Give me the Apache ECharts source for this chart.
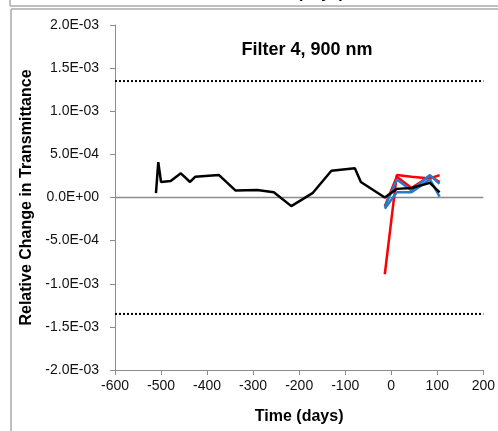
<!DOCTYPE html>
<html>
<head>
<meta charset="utf-8">
<script src="https://cdn.jsdelivr.net/npm/echarts@6/dist/echarts.min.js"></script>
<style>
  html, body { margin: 0; padding: 0; background: #fff; }
  #chart { width: 498px; height: 431px; }
</style>
</head>
<body>
<div id="chart"></div>
<script>
// Time (days) and relative transmittance change for filter 4 at 900 nm
var blackT = [-511, -506, -500, -479, -457, -437, -426, -374, -338, -291, -255, -217, -171, -130, -79, -66, -14, 12, 44, 84, 105];
var blackV = [5e-5, 4.1e-4, 1.8e-4, 1.9e-4, 2.8e-4, 1.8e-4, 2.4e-4, 2.6e-4, 8e-5, 8.7e-5, 6e-5, -1.0e-4, 5e-5, 3.1e-4, 3.4e-4, 1.8e-4, 0, 1.0e-4, 1.1e-4, 1.7e-4, 6e-5];

var recentT = [-14, 12, 44, 84, 105];
var red1V  = [-8.9e-4, 2.6e-4, 2.4e-4, 2.2e-4, 2.6e-4];
var red2V  = [-1.0e-4, 2.4e-4, 1.1e-4, 2.5e-4, 1.8e-4];
var blue1V = [-1.1e-4, 2.1e-4, 8e-5, 2.6e-4, 1.6e-4];
var blue2V = [-1.3e-4, 6e-5, 6e-5, 2.1e-4, 1e-5];

// Tolerance limits (dotted) and reference line at zero
var limitUpper = 1.35e-3;
var limitLower = -1.35e-3;
var zeroValue = 0;

var xMin = -600, xMax = 200, xStep = 100;
var yMin = -2.0e-3, yMax = 2.0e-3, yStep = 5e-4;

function pairs(t, v) {
  return t.map(function (x, i) { return [x, v[i]]; });
}

function sci(v) {
  if (Math.abs(v) < 1e-12) v = 0;
  var s = v.toExponential(1);
  var m = s.split('e');
  var exp = parseInt(m[1], 10);
  var sign = exp < 0 ? '-' : '+';
  var e = Math.abs(exp);
  return m[0] + 'E' + sign + (e < 10 ? '0' + e : '' + e);
}

var FONT = '"Liberation Sans", Arial, sans-serif';

function lineSeries(name, t, v, color) {
  return {
    name: name,
    type: 'line',
    data: pairs(t, v),
    symbol: 'none',
    lineStyle: { color: color, width: 2.5 },
    itemStyle: { color: color },
    z: 3,
    animation: false
  };
}

function levelSeries(name, value, color, width, type) {
  return {
    name: name,
    type: 'line',
    data: [[xMin, value], [xMax, value]],
    symbol: 'none',
    silent: true,
    lineStyle: { color: color, width: width, type: type },
    z: 2,
    animation: false
  };
}

var blackSeries = lineSeries('Filter 4', blackT, blackV, '#000000');
blackSeries.z = 4;

var chart = echarts.init(document.getElementById('chart'));

chart.setOption({
  backgroundColor: '#ffffff',
  animation: false,
  textStyle: { fontFamily: FONT },
  title: {
    text: 'Filter 4, 900 nm',
    left: 302,
    top: 36,
    textAlign: 'center',
    textStyle: { fontFamily: FONT, fontSize: 18, fontWeight: 'bold', color: '#000' }
  },
  grid: { left: 115, right: 13, top: 25, bottom: 61, containLabel: false },
  xAxis: {
    type: 'value',
    min: xMin, max: xMax, interval: xStep,
    name: 'Time (days)',
    nameLocation: 'middle',
    nameGap: 39,
    nameTextStyle: { fontFamily: FONT, fontSize: 16, fontWeight: 'bold', color: '#000' },
    axisLine: { show: true, onZero: false, lineStyle: { color: '#8c8c8c', width: 1 } },
    axisTick: { show: true, length: 5, lineStyle: { color: '#8c8c8c' } },
    axisLabel: { fontFamily: FONT, fontSize: 14, color: '#111', margin: 9 },
    splitLine: { show: false }
  },
  yAxis: {
    type: 'value',
    min: yMin, max: yMax, interval: yStep,
    name: 'Relative Change in Transmittance',
    nameLocation: 'middle',
    nameRotate: 90,
    nameGap: 78,
    nameTextStyle: { fontFamily: FONT, fontSize: 16, fontWeight: 'bold', color: '#000' },
    axisLine: { show: true, onZero: false, lineStyle: { color: '#8c8c8c', width: 1 } },
    axisTick: { show: true, length: 5, lineStyle: { color: '#8c8c8c' } },
    axisLabel: { fontFamily: FONT, fontSize: 14, color: '#111', margin: 16, formatter: sci },
    splitLine: { show: false }
  },
  series: [
    levelSeries('Zero', zeroValue, '#8c8c8c', 1.5, 'solid'),
    levelSeries('Upper limit', limitUpper, '#000000', 2, [2, 2]),
    levelSeries('Lower limit', limitLower, '#000000', 2, [2, 2]),
    lineSeries('Red A', recentT, red1V, '#ff0000'),
    lineSeries('Red B', recentT, red2V, '#ff0000'),
    lineSeries('Blue A', recentT, blue1V, '#2a7bc4'),
    lineSeries('Blue B', recentT, blue2V, '#2a7bc4'),
    blackSeries
  ],
  graphic: [
    // bottom edge of the panel above, with its axis title clipped at the top
    {
      type: 'text', silent: true,
      style: { text: 'Time (days)', x: 300, y: 1.5, align: 'center', verticalAlign: 'bottom',
               font: 'bold 16px ' + FONT, fill: '#000' }
    },
    { type: 'line', silent: true, shape: { x1: 10, y1: 0, x2: 10, y2: 6 }, style: { stroke: '#aaaaaa', lineWidth: 1.5 } },
    { type: 'line', silent: true, shape: { x1: 10, y1: 6, x2: 498, y2: 6 }, style: { stroke: '#aaaaaa', lineWidth: 1.5 } },
    // frame of this panel
    { type: 'line', silent: true, shape: { x1: 11, y1: 9, x2: 498, y2: 9 }, style: { stroke: '#aaaaaa', lineWidth: 1.5 } },
    { type: 'line', silent: true, shape: { x1: 11, y1: 9, x2: 11, y2: 431 }, style: { stroke: '#aaaaaa', lineWidth: 1.5 } }
  ]
});
</script>
</body>
</html>
